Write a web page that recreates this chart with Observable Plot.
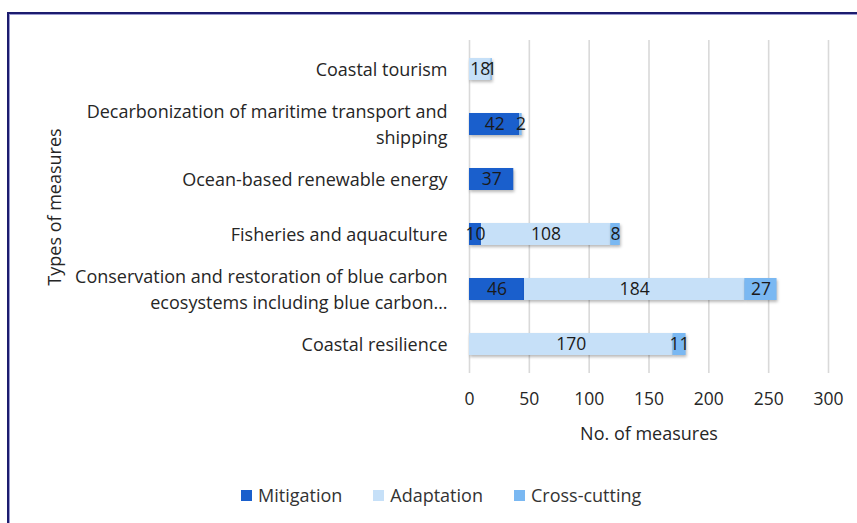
<!DOCTYPE html>
<html>
<head>
<meta charset="utf-8">
<script src="https://cdn.jsdelivr.net/npm/d3@7"></script>
<script src="https://cdn.jsdelivr.net/npm/@observablehq/plot@0.6"></script>
<style>
  html, body { margin: 0; padding: 0; background: #fff; }
  body { width: 857px; height: 523px; position: relative; overflow: hidden; font-family: "Open Sans", sans-serif; }
  #frame { position: absolute; left: 7px; top: 12px; width: 900px; height: 600px;
           border-top: 2px solid #1c1c6e; border-left: 2px solid #1c1c6e;
           box-shadow: inset 1px 1px 0 #9a9ad0; box-sizing: border-box; }
  #chart { position: absolute; left: 0; top: 0; }
  #legend { position: absolute; left: 241px; top: 483px; display: flex; align-items: center;
            font-size: 18px; color: #333; gap: 31px; }
  #legend .item { display: flex; align-items: center; gap: 6px; }
  #legend .sw { width: 11px; height: 11px; display: inline-block; }
  .bars rect { filter: drop-shadow(1px 2px 1.5px rgba(0,0,0,0.28)); }
</style>
</head>
<body>
<div id="frame"></div>
<div id="chart"></div>
<div id="legend"></div>
<script>
const categories = [
  "Coastal tourism",
  "Decarbonization of maritime transport and\nshipping",
  "Ocean-based renewable energy",
  "Fisheries and aquaculture",
  "Conservation and restoration of blue carbon\necosystems including blue carbon…",
  "Coastal resilience"
];
const seriesNames = ["Mitigation", "Adaptation", "Cross-cutting"];
const mitigation   = [0, 42, 37, 10, 46, 0];
const adaptation   = [18, 0, 0, 108, 184, 170];
const crossCutting = [1, 2, 0, 8, 27, 11];
const xTicks = [0, 50, 100, 150, 200, 250, 300];
const colors = ["#1a5fcc", "#c6e0f8", "#7ab8f2"];

const seriesValues = [mitigation, adaptation, crossCutting];
const data = [];
categories.forEach((c, i) => {
  seriesNames.forEach((s, j) => {
    data.push({cat: c, series: s, value: seriesValues[j][i]});
  });
});
const nonzero = data.filter(d => d.value > 0);

const plot = Plot.plot({
  width: 857,
  height: 470,
  marginLeft: 469,
  marginRight: 29,
  marginTop: 40,
  marginBottom: 97,
  style: {fontFamily: "'Open Sans', sans-serif", fontSize: "18px", color: "#262626", background: "transparent"},
  x: {domain: [0, 300], ticks: xTicks},
  y: {domain: categories, paddingInner: 0.6, paddingOuter: 0.3, axis: null},
  color: {domain: seriesNames, range: colors},
  marks: [
    Plot.gridX(xTicks, {stroke: "#d9d9d9", strokeOpacity: 1, strokeWidth: 1.6}),
    Plot.barX(nonzero, Plot.stackX({x: "value", y: "cat", fill: "series", order: seriesNames, className: "bars"})),
    Plot.text(nonzero, Plot.stackX({x: "value", y: "cat", z: "series", order: seriesNames, text: d => String(d.value), fill: "#1a1a1a", fontSize: 17.5})),
    Plot.text(categories, {y: d => d, text: d => d, frameAnchor: "left", dx: -22, dy: -2, textAnchor: "end", lineHeight: 1.45, fill: "#262626"}),
    Plot.axisX(xTicks, {tickSize: 0, tickPadding: 19, label: null, fill: "#262626", fontSize: 17.5}),
    Plot.text(["No. of measures"], {frameAnchor: "bottom", dy: 66, fill: "#262626"}),
    Plot.text(["Types of measures"], {frameAnchor: "left", dx: -414, rotate: -90, textAnchor: "middle", fill: "#262626"})
  ]
});
document.getElementById("chart").appendChild(plot);

const legend = document.getElementById("legend");
seriesNames.forEach((s, i) => {
  const item = document.createElement("div");
  item.className = "item";
  const sw = document.createElement("span");
  sw.className = "sw";
  sw.style.background = colors[i];
  const lab = document.createElement("span");
  lab.textContent = s;
  item.appendChild(sw);
  item.appendChild(lab);
  legend.appendChild(item);
});
</script>
</body>
</html>
